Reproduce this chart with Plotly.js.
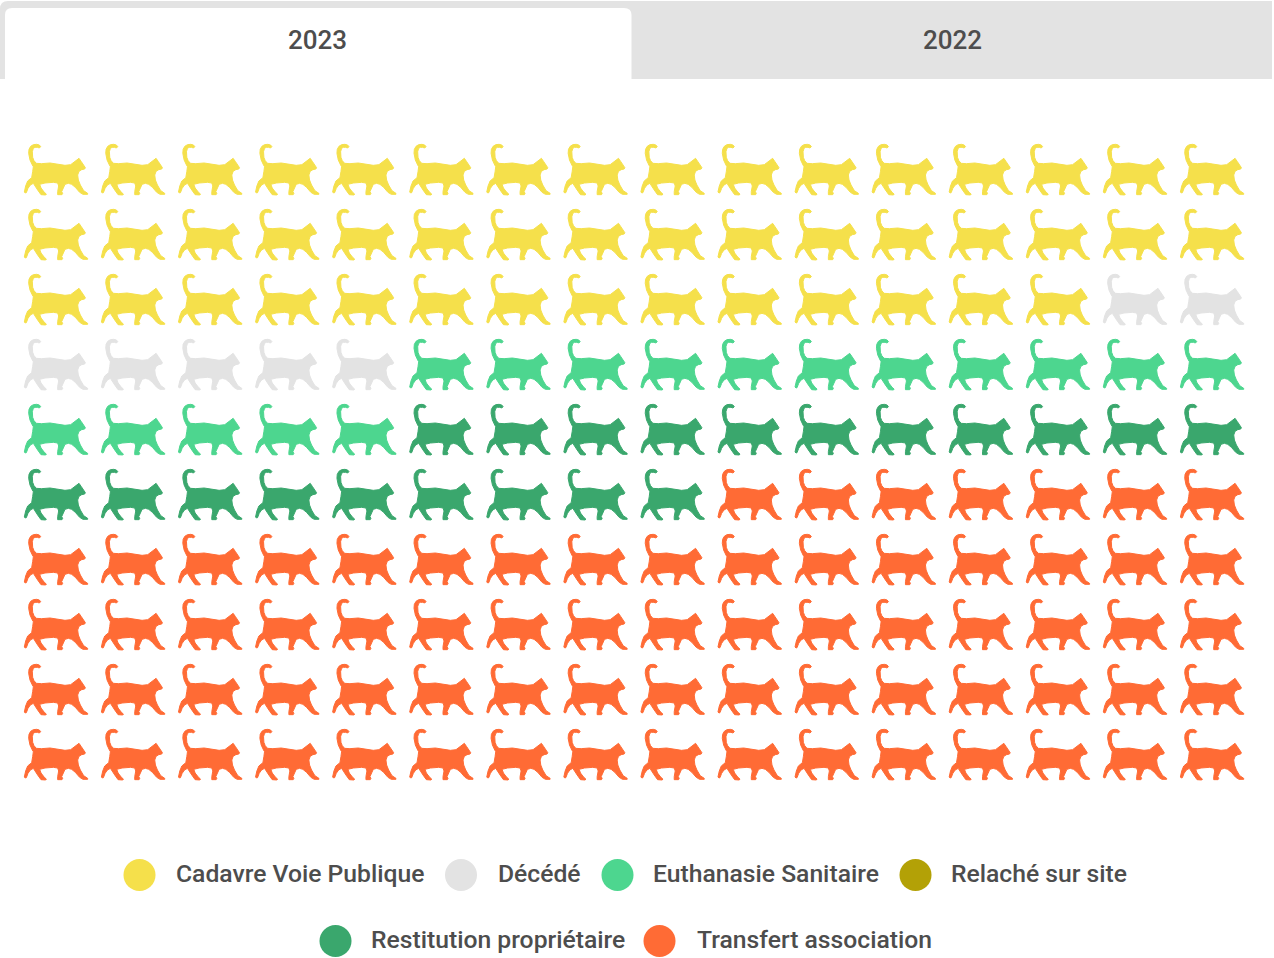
<!DOCTYPE html>
<html>
<head>
<meta charset="utf-8">
<script src="https://cdn.plot.ly/plotly-3.0.1.min.js"></script>
<style>html,body{margin:0;padding:0;background:#fff;overflow:hidden}#chart{width:1274px;height:958px}</style>
</head>
<body>
<div id="chart"></div>
<script>
// ---- data ----
var tabLabels = ['2023', '2022'];
var categories = ['Cadavre Voie Publique', 'Décédé', 'Euthanasie Sanitaire', 'Relaché sur site', 'Restitution propriétaire', 'Transfert association'];
var counts2023 = [46, 7, 16, 0, 20, 71];
var colors = ['#f5e04b', '#e3e3e3', '#4dd68f', '#b3a106', '#3aa76d', '#ff6b35'];
var columns = 16;
var rows = 10;

// Pictogram outline (one cat, in 1/3 px of its cell)
var catX = [122,118,112,105,100,97,98,102,109,125,150,175,195,212,225,237,244,251,256,254,245,237,233,235,241,251,263,263,249,239,226,215,205,195,189,185,188,186,173,173,176,173,160,135,119,123,133,139,137,123,113,106,100,91,84,79,76,73,77,83,95,98,100,97,90,86,87,92,100,110,118,122];
var catY = [50,54,52,52,55,65,82,92,100,101,99,103,106,104,95,85,95,105,113,117,119,124,135,150,165,182,190,193,193,187,172,163,160,163,174,185,190,194,194,185,168,159,157,159,163,174,187,192,195,194,180,167,160,165,175,188,189,186,168,153,143,125,110,105,90,70,58,49,44,43,45,50];

// ---- layout geometry ----
var W = 1274, H = 958;
var pitchX = 77.07, pitchY = 65, originX = 24, originY = 144;
var catOffsetX = 24, catOffsetY = 144;

function cellX(px, col) { return col + (px / 3 - catOffsetX) / pitchX; }
function cellY(py, row) { return row + (py / 3 + 130 - catOffsetY) / pitchY; }

var traces = [];
var index = 0;
categories.forEach(function (name, c) {
  var xs = [], ys = [];
  for (var n = 0; n < counts2023[c]; n++, index++) {
    var col = index % columns, row = Math.floor(index / columns);
    for (var k = 0; k < catX.length; k++) {
      xs.push(cellX(catX[k], col));
      ys.push(cellY(catY[k], row));
    }
    xs.push(null); ys.push(null);
  }
  traces.push({
    type: 'scatter', mode: 'lines', x: xs, y: ys, name: name,
    fill: 'toself', fillcolor: colors[c], line: {width: 1, color: colors[c]},
    hoverinfo: 'name', showlegend: false
  });
});

// Legend swatches + labels placed by hand to match the wrapped HTML legend
var legendPx = [[139.5,875,176],[461,875,498],[617.5,875,653],[915.5,875,951],[335.5,941,371],[659.5,941,697]];
function toX(px) { return (px - originX) / pitchX; }
function toY(py) { return (py - originY) / pitchY; }
var annotations = [];
categories.forEach(function (name, c) {
  var p = legendPx[c];
  traces.push({
    type: 'scatter', mode: 'markers', x: [toX(p[0])], y: [toY(p[1])], name: name,
    marker: {size: 32, color: colors[c], line: {width: 0}},
    hoverinfo: 'name', showlegend: false, cliponaxis: false
  });
  annotations.push({
    xref: 'paper', yref: 'paper', x: p[2] / W, y: 1 - (p[1] - 2) / H, xanchor: 'left', yanchor: 'middle',
    text: name, showarrow: false, align: 'left', xshift: -2,
    font: {family: 'Roboto, sans-serif', size: 24.7, weight: 500, color: '#4d4d4d'}
  });
});
tabLabels.forEach(function (t, i) {
  annotations.push({
    xref: 'paper', yref: 'paper', x: (i === 0 ? 317.5 : 952.5) / W, y: 1 - 40 / H, xanchor: 'center', yanchor: 'middle',
    text: t, showarrow: false, font: {family: 'Roboto, sans-serif', size: 26, weight: 500, color: '#4d4d4d'}
  });
});

var layout = {
  width: W, height: H, margin: {l: 0, r: 0, t: 0, b: 0},
  paper_bgcolor: '#ffffff', plot_bgcolor: '#ffffff', showlegend: false,
  xaxis: {range: [toX(0), toX(W)], visible: false, fixedrange: true},
  yaxis: {range: [toY(H), toY(0)], visible: false, fixedrange: true},
  annotations: annotations,
  shapes: [
    {type: 'path', xref: 'paper', yref: 'paper', layer: 'below', line: {width: 0}, fillcolor: '#e3e3e3',
     path: 'M0,' + (1 - 79 / H) + ' L0,' + (1 - 9 / H) + ' Q0,' + (1 - 1 / H) + ' ' + (8 / W) + ',' + (1 - 1 / H) +
           ' L' + (1272 / W) + ',' + (1 - 1 / H) + ' L' + (1272 / W) + ',' + (1 - 79 / H) + ' Z'},
    {type: 'path', xref: 'paper', yref: 'paper', layer: 'below', line: {width: 0}, fillcolor: '#ffffff',
     path: 'M' + (5 / W) + ',' + (1 - 79 / H) + ' L' + (5 / W) + ',' + (1 - 15 / H) + ' Q' + (5 / W) + ',' + (1 - 8 / H) + ' ' + (12 / W) + ',' + (1 - 8 / H) +
           ' L' + (624 / W) + ',' + (1 - 8 / H) + ' Q' + (631.5 / W) + ',' + (1 - 8 / H) + ' ' + (631.5 / W) + ',' + (1 - 15 / H) + ' L' + (631.5 / W) + ',' + (1 - 79 / H) + ' Z'}
  ]
};
Plotly.newPlot('chart', traces, layout, {displayModeBar: false, responsive: false});
</script>
</body>
</html>
